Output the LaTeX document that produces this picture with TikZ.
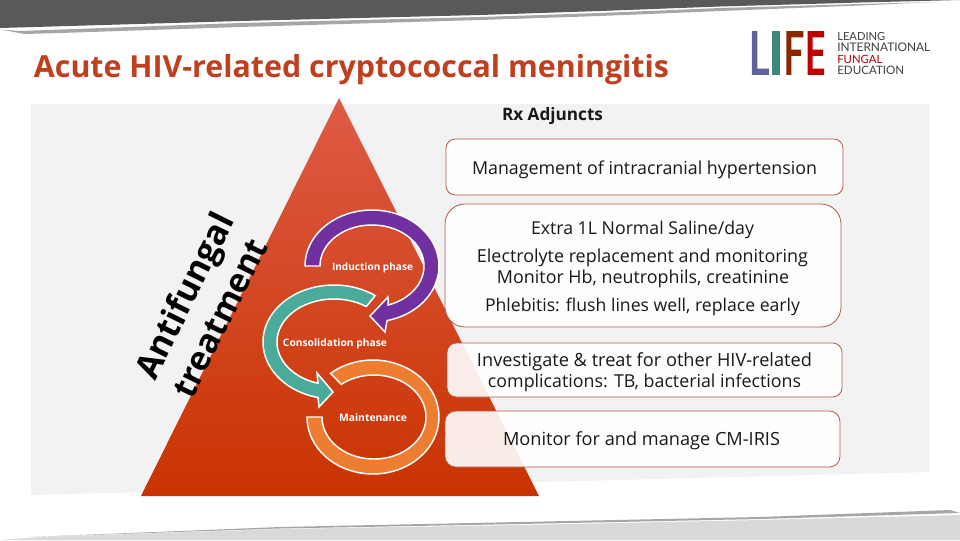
\documentclass[tikz,border=0pt]{standalone}
\usepackage{fontspec}
\usepackage{graphicx}
\setmainfont{Open Sans}
\newfontfamily\logofont{Lato}
\newfontfamily\lifefont[FakeBold=3]{Poppins}
\newcommand{\tw}[2]{\resizebox{\dimexpr#1pt*3/4\relax}{!}{#2}}
\newcommand{\logoglyph}[3]{\resizebox{\dimexpr#1pt*3/4\relax}{\dimexpr#2pt*3/4\relax}{#3}}
\definecolor{bandDark}{HTML}{595959}
\definecolor{bandMid}{HTML}{A6A6A6}
\definecolor{bandLight}{HTML}{D9D9D9}
\definecolor{panel}{HTML}{F2F2F2}
\definecolor{titleRed}{HTML}{C03F1F}
\definecolor{triTop}{HTML}{DE5B45}
\definecolor{triMid}{HTML}{CF3F10}
\definecolor{triBot}{HTML}{C93300}
\definecolor{boxEdge}{HTML}{B25A48}
\definecolor{arcPurple}{HTML}{7030A0}
\definecolor{arcTeal}{HTML}{4BAB9B}
\definecolor{arcOrange}{HTML}{ED7D31}
\tikzset{
  x=0.75pt,y=-0.75pt,
  card/.style={draw=boxEdge,line width=0.6pt,fill=white,fill opacity=0.9},
  cardtext/.style={inner sep=0pt,text=black!90,anchor=center},
  phase/.style={inner sep=0pt,text=white,font=\bfseries},
  sweep/.style={draw=white,line width=1.1pt,line join=miter},
  side/.style={inner sep=0pt,rotate=63.6,font=\bfseries,text=black},
  logoword/.style={inner sep=0pt,anchor=west,text=black!75,font=\logofont},
  logoletter/.style={inner sep=0pt,font=\lifefont},
}
\begin{document}
\begin{tikzpicture}
\useasboundingbox (0,0) rectangle (960,540);
\fill[white] (0,0) rectangle (960,540);
% torn bands
\fill[bandDark] (0,0) -- (960,0) -- (860,2.5) -- (720,6.5) -- (600,11) -- (480,15) -- (240,21) -- (0,28) -- cycle;
\fill[bandMid] (0,29.5) -- (20,31) -- (240,23) -- (480,17) -- (600,13) -- (720,8) -- (860,4) -- (935,2) -- (860,5.5) -- (720,11) -- (600,16) -- (480,20) -- (240,27) -- (60,33) -- (25,34) -- cycle;
\fill[bandLight] (0,540) -- (40,537) -- (280,529) -- (520,525) -- (760,520) -- (960,515) -- (960,540) -- cycle;
\fill[bandMid] (30,537) -- (280,527) -- (520,522) -- (760,517) -- (950,510) -- (960,513) -- (760,519) -- (520,524) -- (280,528.5) -- cycle;
% panel
\fill[panel] (31,104) -- (929,104) -- (929,472) -- (31,495) -- cycle;
% title
\node[inner sep=0pt,text=titleRed,font=\bfseries] (title) at (351.5,69.5) {\tw{635}{Acute HIV-related cryptococcal meningitis}};
% logo
\node[logoletter,text=arcPurple!60!arcTeal] (logoL) at (759,53) {\logoglyph{20}{42}{L}};
\node[logoletter,text=arcTeal!80!black] (logoI) at (776,53) {\logoglyph{16}{42}{I}};
\node[logoletter,text=red!35!black!70!orange] (logoF) at (794,53) {\logoglyph{20}{42}{F}};
\node[logoletter,text=red!75!black] (logoE) at (815.5,53) {\logoglyph{21}{42}{E}};
\node[logoword] (lead) at (837,36.5) {\tw{48}{LEADING}};
\node[logoword] (intl) at (837,47.5) {\tw{93}{INTERNATIONAL}};
\node[logoword,text=red!70!black] (fung) at (837,59) {\tw{45}{FUNGAL}};
\node[logoword] (edu) at (837,70.5) {\tw{67}{EDUCATION}};
% triangle
\shade[top color=triTop,middle color=triMid,bottom color=triBot] (339,98) -- (539,496) -- (141,496) -- cycle;
% side text
\node[side] (anti) at (187,297) {\tw{180}{Antifungal}};
\node[side] (treat) at (220.5,318.5) {\tw{172}{treatment}};
% arcs
\filldraw[sweep,fill=arcOrange]
  plot[domain=230:540,samples=70] ({373+66*cos(\x)},{417+57*sin(\x)})
  -- plot[domain=540:231,samples=70] ({374+52*cos(\x)},{417+42*sin(\x)}) -- cycle;
\filldraw[sweep,fill=arcTeal]
  plot[domain=305.5:103,samples=70] ({334+71*cos(\x)},{342+57*sin(\x)})
  -- (319,407) -- (333,392) -- (317,373)
  -- plot[domain=106.3:304.5,samples=70] ({334+57*cos(\x)},{342+43*sin(\x)}) -- cycle;
\filldraw[sweep,fill=arcPurple]
  plot[domain=180:437,samples=70] ({372+67*cos(\x)},{266+56*sin(\x)})
  -- (385,332) -- (370,316) -- (388,297)
  -- plot[domain=432:180,samples=70] ({372+52*cos(\x)},{266+41*sin(\x)}) -- cycle;
\node[phase] (ind) at (372.5,267.5) {\tw{81}{Induction phase}};
\node[phase] (con) at (335,343.5) {\tw{104}{Consolidation phase}};
\node[phase] (mai) at (373,418) {\tw{68}{Maintenance}};
% cards
\node[inner sep=0pt,font=\bfseries,text=black!90] (rx) at (552.5,116.5) {\tw{101}{Rx Adjuncts}};
\draw[card,rounded corners=7pt] (446,139) rectangle (843,195);
\draw[card,rounded corners=15pt] (445,204) rectangle (841,327);
\draw[card,rounded corners=7pt] (447,343) rectangle (842,397);
\draw[card,rounded corners=8pt] (445,411) rectangle (840,467);
\node[cardtext] (m1) at (644.5,169.5) {\tw{345}{Management of intracranial hypertension}};
\node[cardtext] (e1) at (642.5,229.5) {\tw{223}{Extra 1L Normal Saline/day}};
\node[cardtext] (e2) at (642.5,257.5) {\tw{331}{Electrolyte replacement and monitoring}};
\node[cardtext] (e3) at (643,278.5) {\tw{292}{Monitor Hb, neutrophils, creatinine}};
\node[cardtext] (e4) at (642.5,306.5) {\tw{315}{Phlebitis: flush lines well, replace early}};
\node[cardtext] (i1) at (644.5,361.5) {\tw{335}{Investigate \& treat for other HIV-related}};
\node[cardtext] (i2) at (644.5,382.5) {\tw{313}{complications: TB, bacterial infections}};
\node[cardtext] (c1) at (641.5,440.5) {\tw{277}{Monitor for and manage CM-IRIS}};
\end{tikzpicture}
\end{document}
